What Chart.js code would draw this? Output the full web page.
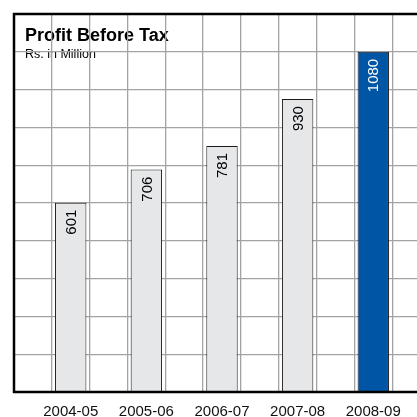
<!DOCTYPE html>
<html>
<head>
<meta charset="utf-8">
<script src="https://cdn.jsdelivr.net/npm/chart.js@4"></script>
<style>
  html, body { margin: 0; padding: 0; overflow: hidden; background: #fff; }
  #wrap { width: 430px; height: 417px; }
</style>
</head>
<body>
<div id="wrap"><canvas id="myChart"></canvas></div>
<script>
const years = ["2004-05", "2005-06", "2006-07", "2007-08", "2008-09"];
const profit = [601, 706, 781, 930, 1080];
const barColors = ["#e6e7e8", "#e6e7e8", "#e6e7e8", "#e6e7e8", "#0055a5"];
const textColors = ["#000", "#000", "#000", "#000", "#fff"];

// one empty cell between bars, like the grid in the picture
let labels = [""];
let data = [null];
let fills = ["#fff"];
let inkColors = ["#000"];
for (let i = 0; i < years.length; i++) {
  labels.push(years[i], "");
  data.push(profit[i], null);
  fills.push(barColors[i], "#fff");
  inkColors.push(textColors[i], "#000");
}

const decor = {
  id: "decor",
  beforeDraw(chart) {
    const c = chart.ctx;
    const a = chart.chartArea;
    c.save();
    c.fillStyle = "#000";
    c.textBaseline = "alphabetic";
    c.font = "bold 18px 'Liberation Sans', Arial, sans-serif";
    c.fillText("Profit Before Tax", a.left + 11, a.top + 27);
    c.font = "12.5px 'Liberation Sans', Arial, sans-serif";
    c.fillText("Rs. in Million", a.left + 11, a.top + 44);
    c.restore();
  },
  afterDatasetsDraw(chart) {
    const c = chart.ctx;
    const a = chart.chartArea;
    const meta = chart.getDatasetMeta(0);
    c.save();
    c.font = "15px 'Liberation Sans', Arial, sans-serif";
    meta.data.forEach((bar, i) => {
      if (data[i] == null) return;
      c.save();
      c.translate(bar.x + 1, bar.y + 7);
      c.rotate(-Math.PI / 2);
      c.textAlign = "right";
      c.textBaseline = "middle";
      c.fillStyle = inkColors[i];
      c.fillText(String(data[i]), 0, 0);
      c.restore();
    });
    // frame: left, top and bottom in black
    c.strokeStyle = "#000";
    c.lineWidth = 2.5;
    c.beginPath();
    c.moveTo(a.right + 5, a.top);
    c.lineTo(a.left, a.top);
    c.lineTo(a.left, a.bottom);
    c.lineTo(a.right + 5, a.bottom);
    c.stroke();
    c.restore();
  }
};

const ctx = document.getElementById("myChart");

let ch = new Chart(ctx, {
  type: "bar",
  data: {
    labels: labels,
    datasets: [
      {
        data: data,
        backgroundColor: fills,
        borderColor: "#1a1a1a",
        borderWidth: 1,
        categoryPercentage: 1,
        barPercentage: 0.83,
      },
    ],
  },
  options: {
    responsive: true,
    maintainAspectRatio: false,
    animation: false,
    layout: { padding: { left: 0, top: 14, right: 0, bottom: 0 } },
    plugins: {
      legend: { display: false },
      tooltip: { enabled: false },
    },
    scales: {
      x: {
        grid: { color: "#a3a3a3", lineWidth: 1.3, drawTicks: false },
        border: { display: false },
        ticks: {
          color: "#111",
          font: { family: "'Liberation Sans', Arial, sans-serif", size: 15 },
          padding: 11,
          maxRotation: 0,
          autoSkip: false,
        },
        afterFit: (s) => { s.height = 25; },
      },
      y: {
        min: 0,
        max: 1200,
        ticks: { stepSize: 120, display: false },
        grid: { color: "#a3a3a3", lineWidth: 1.3, drawTicks: false },
        border: { display: false },
        afterFit: (s) => { s.width = 14; },
      },
    },
  },
  plugins: [decor],
});
</script>
</body>
</html>
